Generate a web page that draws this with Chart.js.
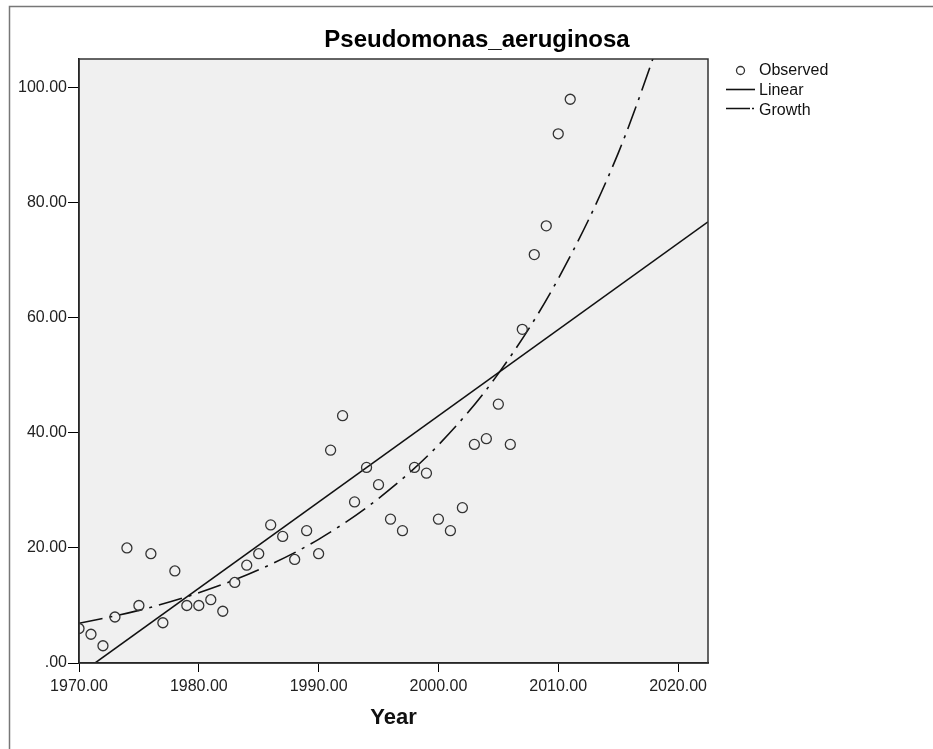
<!DOCTYPE html>
<html lang="en">
<head>
    <meta charset="UTF-8">
    <script src="https://cdn.jsdelivr.net/npm/chart.js"></script>
    <title>Pseudomonas_aeruginosa</title>
    <style>
        body { margin: 0; background: #fff; }
        canvas { display: block; }
    </style>
</head>
<body>
    <canvas id="curveChart" width="933" height="749"></canvas>
    <script>
        // observed counts per year
        const years = [1970, 1971, 1972, 1973, 1974, 1975, 1976, 1977, 1978, 1979,
                       1980, 1981, 1982, 1983, 1984, 1985, 1986, 1987, 1988, 1989,
                       1990, 1991, 1992, 1993, 1994, 1995, 1996, 1997, 1998, 1999,
                       2000, 2001, 2002, 2003, 2004, 2005, 2006, 2007, 2008, 2009,
                       2010, 2011];
        const observed = [6, 5, 3, 8, 20, 10, 19, 7, 16, 10,
                          10, 11, 9, 14, 17, 19, 24, 22, 18, 23,
                          19, 37, 43, 28, 34, 31, 25, 23, 34, 33,
                          25, 23, 27, 38, 39, 45, 38, 58, 71, 76,
                          92, 98];

        // fitted curves
        const linearYears = [1970, 2022.5];
        const linearFit = [-2.0, 76.7];
        const growthYears = [1970, 1975, 1980, 1985, 1990, 1995, 2000, 2005, 2010, 2015, 2020];
        const growthFit = [6.9, 9.15, 12.2, 16.2, 21.5, 28.6, 37.9, 50.3, 66.8, 88.6, 117.6];

        const xTicks = [1970, 1980, 1990, 2000, 2010, 2020];
        const yTicks = [0, 20, 40, 60, 80, 100];

        const chartTitle = 'Pseudomonas_aeruginosa';
        const legendNames = ['Observed', 'Linear', 'Growth'];

        const toPoints = (xs, ys) => xs.map((x, i) => ({ x: x, y: ys[i] }));
        const fmt = v => v === 0 ? '.00' : v.toFixed(2);
        const FONT = '"Liberation Sans", Arial, sans-serif';

        const growthDash = [24, 7, 3, 7];

        // plot background, frame, title and legend in SPSS style
        const spssDecor = {
            id: 'spssDecor',
            beforeDraw(chart) {
                const { ctx, chartArea: a } = chart;
                ctx.save();
                ctx.fillStyle = '#fff';
                ctx.fillRect(0, 0, chart.width, chart.height);
                ctx.fillStyle = '#f0f0f0';
                ctx.fillRect(a.left, a.top, a.right - a.left, a.bottom - a.top);
                ctx.restore();
            },
            afterDraw(chart) {
                const { ctx, chartArea: a } = chart;
                ctx.save();
                // plot border
                ctx.strokeStyle = '#333';
                ctx.lineWidth = 1.5;
                ctx.strokeRect(a.left, a.top, a.right - a.left, a.bottom - a.top);

                // outer frame
                ctx.strokeStyle = '#777';
                ctx.lineWidth = 1.5;
                ctx.beginPath();
                ctx.moveTo(9.5, chart.height);
                ctx.lineTo(9.5, 6.5);
                ctx.lineTo(chart.width, 6.5);
                ctx.stroke();

                // title
                ctx.fillStyle = '#000';
                ctx.font = 'bold 24px ' + FONT;
                ctx.textAlign = 'center';
                ctx.textBaseline = 'middle';
                ctx.fillText(chartTitle, 477, 40);

                // legend
                ctx.font = '16px ' + FONT;
                ctx.textAlign = 'left';
                ctx.fillStyle = '#111';
                ctx.fillText(legendNames[0], 759, 71);
                ctx.fillText(legendNames[1], 759, 90.5);
                ctx.fillText(legendNames[2], 759, 111);

                ctx.strokeStyle = '#333';
                ctx.lineWidth = 1.3;
                ctx.beginPath();
                ctx.arc(740.5, 70.5, 4, 0, Math.PI * 2);
                ctx.stroke();

                ctx.strokeStyle = '#111';
                ctx.lineWidth = 1.6;
                ctx.beginPath();
                ctx.moveTo(726, 89.5);
                ctx.lineTo(755, 89.5);
                ctx.stroke();

                ctx.setLineDash([24, 2, 2, 6]);
                ctx.beginPath();
                ctx.moveTo(726, 108.5);
                ctx.lineTo(755, 108.5);
                ctx.stroke();
                ctx.restore();
            }
        };

        const ctx = document.getElementById('curveChart').getContext('2d');
        const curveChart = new Chart(ctx, {
            type: 'scatter',
            data: {
                datasets: [{
                    label: legendNames[0],
                    data: toPoints(years, observed),
                    pointRadius: 5,
                    pointBorderWidth: 1.3,
                    pointBorderColor: '#333',
                    pointBackgroundColor: 'rgba(0,0,0,0)'
                }, {
                    label: legendNames[1],
                    data: toPoints(linearYears, linearFit),
                    showLine: true,
                    pointRadius: 0,
                    borderColor: '#111',
                    borderWidth: 1.6
                }, {
                    label: legendNames[2],
                    data: toPoints(growthYears, growthFit),
                    showLine: true,
                    pointRadius: 0,
                    borderColor: '#111',
                    borderWidth: 1.6,
                    borderDash: growthDash,
                    cubicInterpolationMode: 'monotone'
                }]
            },
            options: {
                responsive: false,
                animation: false,
                events: [],
                layout: {
                    padding: { top: 59, left: 0, right: 225, bottom: 0 }
                },
                plugins: {
                    legend: { display: false },
                    title: { display: false },
                    tooltip: { enabled: false }
                },
                scales: {
                    x: {
                        type: 'linear',
                        min: 1970,
                        max: 2022.5,
                        afterBuildTicks: axis => { axis.ticks = xTicks.map(v => ({ value: v })); },
                        afterFit: axis => { axis.height = 86; },
                        grid: { drawOnChartArea: false, drawTicks: true, tickLength: 9, color: '#000' },
                        border: { display: true, color: '#000', width: 1.5 },
                        ticks: {
                            callback: v => fmt(v),
                            padding: 5,
                            maxRotation: 0,
                            color: '#222',
                            font: { family: FONT, size: 16 }
                        },
                        title: {
                            display: true,
                            text: 'Year',
                            color: '#111',
                            padding: { top: 4, bottom: 18 },
                            font: { family: FONT, size: 22, weight: 'bold' }
                        }
                    },
                    y: {
                        min: 0,
                        max: 105,
                        afterBuildTicks: axis => { axis.ticks = yTicks.map(v => ({ value: v })); },
                        afterFit: axis => { axis.width = 79; },
                        grid: { drawOnChartArea: false, drawTicks: true, tickLength: 11, color: '#000' },
                        border: { display: true, color: '#000', width: 1.5 },
                        ticks: {
                            callback: v => fmt(v),
                            padding: 1,
                            color: '#222',
                            font: { family: FONT, size: 16 }
                        }
                    }
                }
            },
            plugins: [spssDecor]
        });
    </script>
</body>
</html>
